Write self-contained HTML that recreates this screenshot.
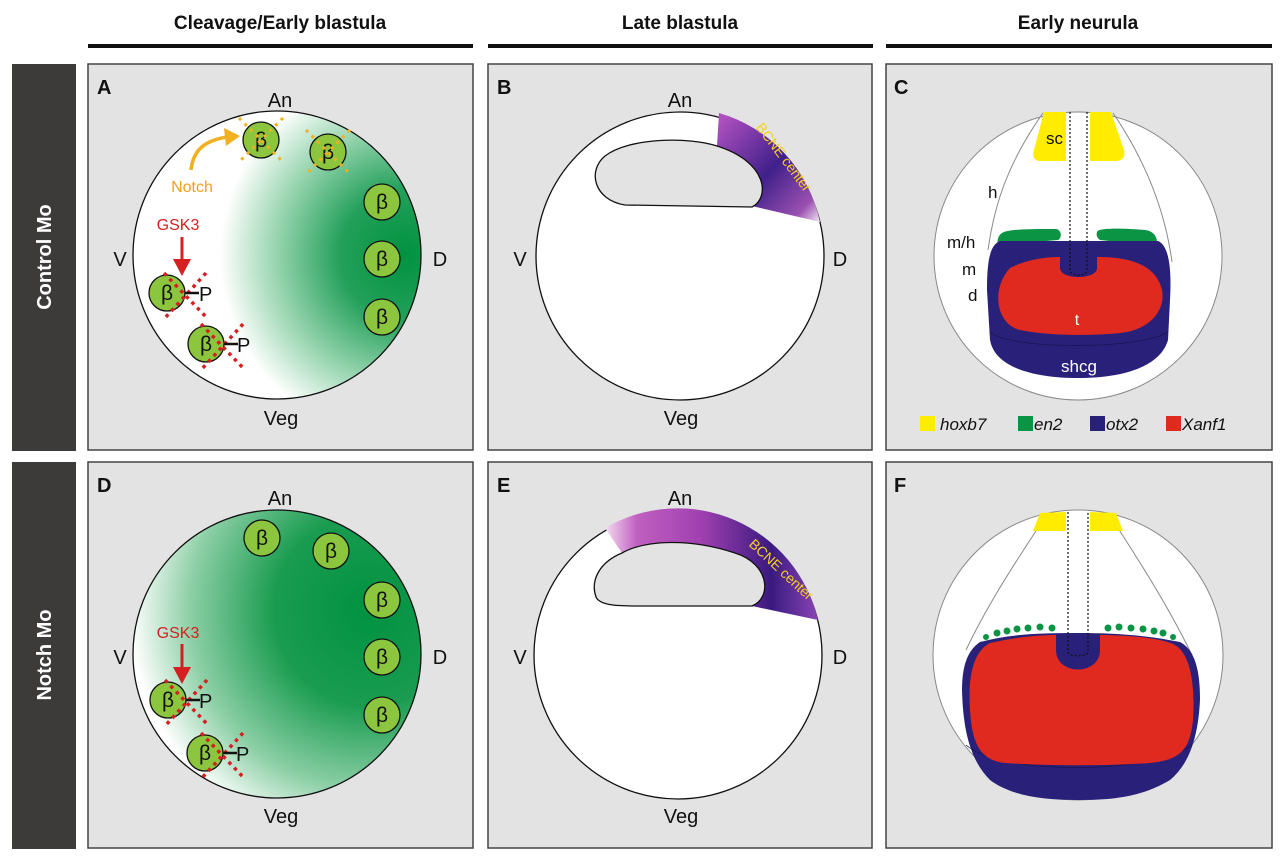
<!DOCTYPE html>
<html><head><meta charset="utf-8"><style>
html,body{margin:0;padding:0;background:#fff}
svg{display:block}
text{font-family:"Liberation Sans",Arial,sans-serif}
</style></head><body>
<svg width="1280" height="858" viewBox="0 0 1280 858" xmlns="http://www.w3.org/2000/svg">
<defs>
<radialGradient id="gA" gradientUnits="userSpaceOnUse" cx="405" cy="255" r="185">
<stop offset="0" stop-color="#009240"/><stop offset="0.35" stop-color="#23a05a"/><stop offset="0.75" stop-color="#a8dcbc"/><stop offset="1" stop-color="#ffffff"/></radialGradient>
<radialGradient id="gD" gradientUnits="userSpaceOnUse" cx="370" cy="610" r="240">
<stop offset="0" stop-color="#009240"/><stop offset="0.4" stop-color="#1a9c50"/><stop offset="0.75" stop-color="#8ccfa6"/><stop offset="1" stop-color="#ffffff"/></radialGradient>
<linearGradient id="bB" gradientUnits="userSpaceOnUse" x1="715" y1="125" x2="820" y2="222">
<stop offset="0" stop-color="#b050c0"/><stop offset="0.5" stop-color="#40208a"/><stop offset="0.85" stop-color="#9a50b0"/><stop offset="1" stop-color="#f4e8f4"/></linearGradient>
<linearGradient id="bE" gradientUnits="userSpaceOnUse" x1="605" y1="560" x2="818" y2="560">
<stop offset="0" stop-color="#f4dcf0"/><stop offset="0.15" stop-color="#c060c0"/><stop offset="0.45" stop-color="#a040b0"/><stop offset="0.78" stop-color="#3a1a80"/><stop offset="1" stop-color="#8a44b4"/></linearGradient>
<clipPath id="cA"><circle cx="277" cy="255" r="144"/></clipPath>
<clipPath id="cD"><circle cx="277" cy="654" r="144"/></clipPath>
<g id="beta"><circle r="18" fill="#8cc63f" stroke="#111" stroke-width="1.3"/><text y="7" font-size="21" text-anchor="middle" fill="#111">β</text></g>
<g id="xr" stroke="#d42020" stroke-width="3.5" stroke-dasharray="3.5,4.5" fill="none"><line x1="-6" y1="-20" x2="38" y2="26"/><line x1="36" y1="-20" x2="-6" y2="26"/></g>
<g id="xy" stroke="#f0b020" stroke-width="3" stroke-dasharray="3,5" fill="none"><line x1="-22" y1="-22" x2="22" y2="22"/><line x1="22" y1="-22" x2="-22" y2="22"/></g>
</defs>

<!-- headers -->
<text x="280" y="29" font-size="19" font-weight="bold" text-anchor="middle" fill="#111">Cleavage/Early blastula</text>
<text x="680" y="29" font-size="19" font-weight="bold" text-anchor="middle" fill="#111">Late blastula</text>
<text x="1078" y="29" font-size="19" font-weight="bold" text-anchor="middle" fill="#111">Early neurula</text>
<rect x="88" y="44" width="385" height="4" fill="#111"/>
<rect x="488" y="44" width="385" height="4" fill="#111"/>
<rect x="886" y="44" width="386" height="4" fill="#111"/>

<!-- row labels -->
<rect x="12" y="64" width="64" height="387" fill="#3d3a3a"/>
<rect x="12" y="462" width="64" height="387" fill="#3d3a3a"/>
<text transform="translate(51,257) rotate(-90)" font-size="20" font-weight="bold" fill="#fff" text-anchor="middle">Control Mo</text>
<text transform="translate(51,655) rotate(-90)" font-size="20" font-weight="bold" fill="#fff" text-anchor="middle">Notch Mo</text>

<!-- panel frames -->
<g fill="#e3e3e3" stroke="#444" stroke-width="1.5">
<rect x="88" y="64" width="385" height="386"/><rect x="488" y="64" width="384" height="386"/><rect x="886" y="64" width="386" height="386"/>
<rect x="88" y="462" width="385" height="386"/><rect x="488" y="462" width="384" height="386"/><rect x="886" y="462" width="386" height="386"/>
</g>
<g font-size="20" font-weight="bold" fill="#111">
<text x="97" y="94">A</text><text x="497" y="94">B</text><text x="894" y="94">C</text>
<text x="97" y="492">D</text><text x="497" y="492">E</text><text x="894" y="492">F</text>
</g>

<!-- Panel A -->
<circle cx="277" cy="255" r="144" fill="#fff"/>
<circle cx="277" cy="255" r="144" fill="url(#gA)" clip-path="url(#cA)"/>
<circle cx="277" cy="255" r="144" fill="none" stroke="#111" stroke-width="1.3"/>
<g font-size="20" fill="#111" text-anchor="middle">
<text x="280" y="107">An</text><text x="120" y="266">V</text><text x="440" y="266">D</text><text x="281" y="425">Veg</text>
</g>
<use href="#beta" x="261" y="140"/><use href="#beta" x="328" y="152"/>
<use href="#xy" x="261" y="140"/><use href="#xy" x="328" y="152"/>
<use href="#beta" x="382" y="202"/><use href="#beta" x="382" y="259"/><use href="#beta" x="382" y="317"/>
<use href="#beta" x="167" y="293"/><use href="#beta" x="206" y="344"/>
<use href="#xr" x="170" y="293"/><use href="#xr" x="207" y="344"/>
<line x1="185" y1="293" x2="199" y2="293" stroke="#111" stroke-width="2.5"/>
<text x="199" y="301" font-size="20" fill="#111">P</text>
<line x1="224" y1="344" x2="238" y2="344" stroke="#111" stroke-width="2.5"/>
<text x="237" y="352" font-size="20" fill="#111">P</text>
<path d="M191,170 C193,150 205,140 228,137" fill="none" stroke="#f0b020" stroke-width="3.5"/>
<polygon points="240,136 224,128 226,146" fill="#f0b020"/>
<text x="192" y="192" font-size="16" fill="#f0a020" text-anchor="middle">Notch</text>
<text x="178" y="230" font-size="16" fill="#d42020" text-anchor="middle">GSK3</text>
<line x1="182" y1="237" x2="182" y2="262" stroke="#d42020" stroke-width="3"/>
<polygon points="173,259 191,259 182,276" fill="#d42020"/>

<!-- Panel D -->
<circle cx="277" cy="654" r="144" fill="#fff"/>
<circle cx="277" cy="654" r="144" fill="url(#gD)" clip-path="url(#cD)"/>
<circle cx="277" cy="654" r="144" fill="none" stroke="#111" stroke-width="1.3"/>
<g font-size="20" fill="#111" text-anchor="middle">
<text x="280" y="505">An</text><text x="120" y="664">V</text><text x="440" y="664">D</text><text x="281" y="823">Veg</text>
</g>
<use href="#beta" x="262" y="538"/><use href="#beta" x="331" y="551"/>
<use href="#beta" x="382" y="600"/><use href="#beta" x="382" y="657"/><use href="#beta" x="382" y="715"/>
<use href="#beta" x="168" y="700"/><use href="#beta" x="205" y="753"/>
<use href="#xr" x="171" y="700"/><use href="#xr" x="207" y="753"/>
<line x1="186" y1="700" x2="200" y2="700" stroke="#111" stroke-width="2.5"/>
<text x="199" y="708" font-size="20" fill="#111">P</text>
<line x1="223" y1="753" x2="237" y2="753" stroke="#111" stroke-width="2.5"/>
<text x="236" y="761" font-size="20" fill="#111">P</text>
<text x="178" y="638" font-size="16" fill="#d42020" text-anchor="middle">GSK3</text>
<line x1="182" y1="644" x2="182" y2="670" stroke="#d42020" stroke-width="3"/>
<polygon points="173,667 191,667 182,684" fill="#d42020"/>

<!-- Panel B -->
<circle cx="680" cy="256" r="144" fill="#fff" stroke="#111" stroke-width="1.3"/>
<path d="M719,113 A144,144 0 0,1 820,222 L752,206 C770,198 768,162 717,146 Z" fill="url(#bB)"/>
<path d="M717,146 C690,137 630,137 605,156 C587,171 594,200 625,205 L752,207 C770,198 768,162 717,146 Z" fill="#e3e3e3" stroke="#111" stroke-width="1.3"/>
<g font-size="20" fill="#111" text-anchor="middle">
<text x="680" y="107">An</text><text x="520" y="266">V</text><text x="840" y="266">D</text><text x="681" y="425">Veg</text>
</g>
<text transform="translate(780,160) rotate(53)" font-size="14" fill="#f5d020" text-anchor="middle">BCNE center</text>

<!-- Panel E -->
<circle cx="678" cy="655" r="144" fill="#fff" stroke="#111" stroke-width="1.3"/>
<path d="M605,528 A144,144 0 0,1 818,620 L752,606 C772,598 770,564 735,553 C690,538 645,540 622,553 Z" fill="url(#bE)"/>
<path d="M622,553 C600,562 590,580 596,597 C600,606 620,606 640,606 L752,606 C772,598 770,564 735,553 C690,538 645,540 622,553 Z" fill="#e3e3e3" stroke="#111" stroke-width="1.3"/>
<g font-size="20" fill="#111" text-anchor="middle">
<text x="680" y="505">An</text><text x="520" y="664">V</text><text x="840" y="664">D</text><text x="681" y="823">Veg</text>
</g>
<text transform="translate(778,573) rotate(43)" font-size="14" fill="#f5d020" text-anchor="middle">BCNE center</text>

<!-- Panel C -->
<circle cx="1078" cy="256" r="144" fill="#fff" stroke="#888" stroke-width="1"/>
<path d="M1043,113 C1010,160 995,200 988,250" fill="none" stroke="#888" stroke-width="1"/>
<path d="M1113,113 C1145,160 1165,210 1172,262" fill="none" stroke="#888" stroke-width="1"/>
<path d="M1044,112 L1066,112 L1066,161 L1040,161 C1034,161 1032,156 1034,150 Z" fill="#ffec00"/>
<path d="M1090,112 L1111,112 L1124,150 C1126,157 1122,161 1116,161 L1090,161 Z" fill="#ffec00"/>
<path d="M1002,233 C1008,229 1030,229 1056,229 C1062,230 1062,238 1058,240 L1000,245 C996,245 997,236 1002,233 Z" fill="#0b9444"/>
<path d="M1097,232 C1098,228 1120,228 1145,230 C1155,231 1159,240 1156,246 L1100,240 C1097,238 1096,235 1097,232 Z" fill="#0b9444"/>
<path d="M1000,241 L1158,241 C1168,245 1172,265 1170,300 L1168,340 C1160,368 1120,378 1078,378 C1035,378 995,368 990,340 L987,290 C987,260 990,245 1000,241 Z" fill="#29207a"/>
<path d="M990,332 C1010,350 1140,350 1168,332" fill="none" stroke="#1a1450" stroke-width="0.8"/>
<path d="M1010,268 C1030,258 1050,257 1060,257 L1060,268 C1060,280 1097,280 1097,268 L1097,257 C1120,257 1155,260 1162,290 C1166,310 1150,330 1120,333 C1090,336 1050,336 1020,330 C997,325 990,290 1010,268 Z" fill="#e12a1f"/>
<g stroke="#111" stroke-width="1.2" stroke-dasharray="2,2" fill="none">
<path d="M1070,112 L1070,270 C1070,277 1087,277 1087,270 L1087,112"/>
</g>
<g font-size="17" fill="#111">
<text x="1046" y="144">sc</text><text x="988" y="198">h</text><text x="947" y="248">m/h</text><text x="962" y="275">m</text><text x="968" y="301">d</text>
</g>
<text x="1077" y="325" font-size="16" fill="#fff" text-anchor="middle">t</text>
<text x="1079" y="372" font-size="17" fill="#fff" text-anchor="middle">shcg</text>
<rect x="920" y="416" width="15" height="15" fill="#ffec00"/>
<text x="940" y="430" font-size="17" font-style="italic" fill="#111">hoxb7</text>
<rect x="1018" y="416" width="15" height="15" fill="#0b9444"/>
<text x="1034" y="430" font-size="17" font-style="italic" fill="#111">en2</text>
<rect x="1090" y="416" width="15" height="15" fill="#29207a"/>
<text x="1106" y="430" font-size="17" font-style="italic" fill="#111">otx2</text>
<rect x="1166" y="416" width="15" height="15" fill="#e12a1f"/>
<text x="1182" y="430" font-size="17" font-style="italic" fill="#111">Xanf1</text>

<!-- Panel F -->
<circle cx="1078" cy="655" r="145" fill="#fff" stroke="#888" stroke-width="1"/>
<path d="M1040,525 C1010,570 985,610 966,650" fill="none" stroke="#888" stroke-width="1"/>
<path d="M1116,525 C1145,570 1170,610 1192,655" fill="none" stroke="#888" stroke-width="1"/>
<path d="M1040,513 L1066,512 L1066,531 L1033,531 Z" fill="#ffec00"/>
<path d="M1090,512 L1116,513 L1123,531 L1090,531 Z" fill="#ffec00"/>
<path d="M980,642 C1010,634 1040,633 1078,633 C1120,633 1150,636 1180,642 C1195,650 1200,670 1200,700 C1198,740 1188,765 1170,780 C1140,798 1110,800 1078,800 C1040,800 1010,795 990,780 C970,760 963,730 962,690 C962,665 968,650 980,642 Z" fill="#29207a"/>
<path d="M966,745 C1000,775 1150,775 1192,745" fill="none" stroke="#1a1450" stroke-width="0.8"/>
<path d="M990,643 C1020,636 1045,635 1056,635 L1056,650 C1056,676 1100,676 1100,650 L1100,635 C1120,635 1160,637 1175,645 C1192,655 1195,690 1193,720 C1190,750 1180,760 1150,763 C1110,766 1050,766 1005,763 C978,760 972,740 970,710 C968,680 972,652 990,643 Z" fill="#e12a1f"/>
<g stroke="#111" stroke-width="1.2" stroke-dasharray="2,2" fill="none">
<path d="M1068,512 L1068,652 C1068,657 1088,657 1088,652 L1088,512"/>
</g>
<g fill="#0b9444">
<circle cx="986" cy="637" r="3"/><circle cx="997" cy="633" r="3.5"/><circle cx="1007" cy="631" r="3.5"/><circle cx="1017" cy="629" r="3.5"/><circle cx="1028" cy="628" r="3.5"/><circle cx="1040" cy="627" r="3.5"/><circle cx="1052" cy="628" r="3.5"/>
<circle cx="1108" cy="628" r="3.5"/><circle cx="1119" cy="627" r="3.5"/><circle cx="1131" cy="628" r="3.5"/><circle cx="1143" cy="629" r="3.5"/><circle cx="1154" cy="631" r="3.5"/><circle cx="1163" cy="633" r="3.5"/><circle cx="1173" cy="637" r="3"/>
</g>
</svg>
</body></html>
